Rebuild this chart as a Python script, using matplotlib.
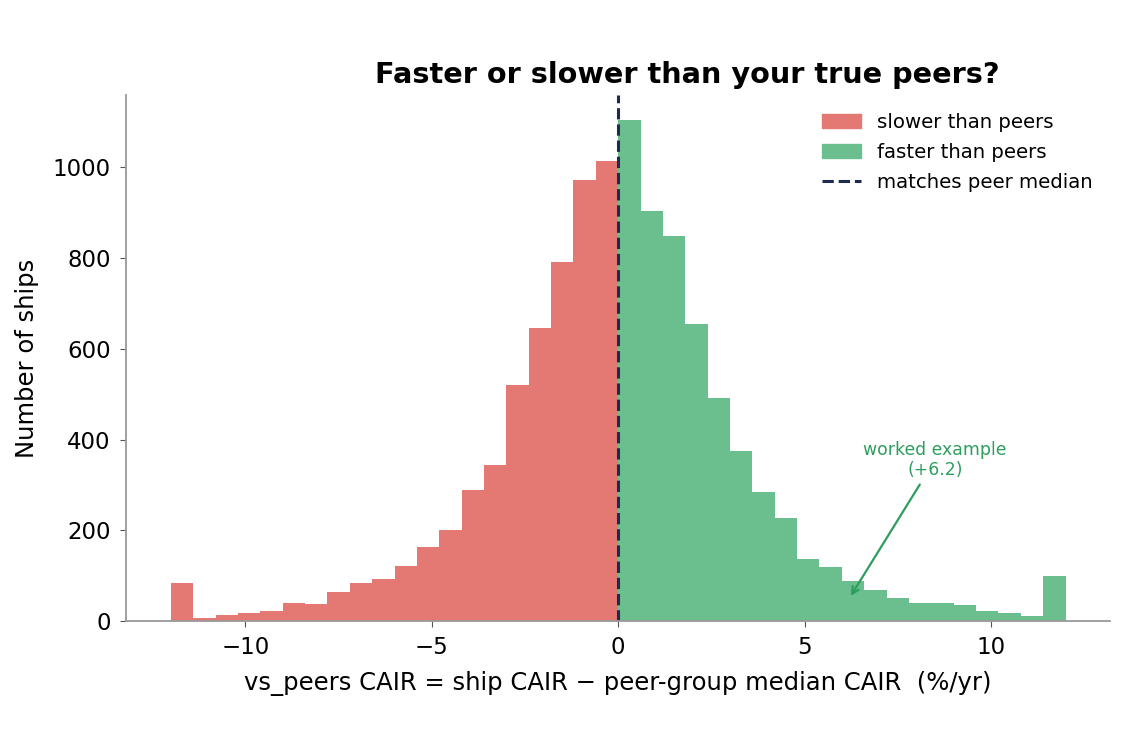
import numpy as np
import matplotlib
matplotlib.use("Agg")
import matplotlib.pyplot as plt
from matplotlib.patches import Patch
from matplotlib.lines import Line2D

# bin edges in %/yr, 0.6 wide, -12 .. 12
bin_edges = np.round(np.arange(-12, 12.01, 0.6), 2)

# ship counts per bin
slower_counts = [83, 6, 13, 18, 21, 39, 37, 63, 83, 93,
                 121, 163, 201, 289, 344, 521, 646, 792, 972, 1014]
faster_counts = [1104, 903, 848, 655, 491, 374, 285, 227, 136, 120,
                 88, 68, 51, 40, 39, 35, 21, 18, 10, 100]

example_value = 6.2

red = "#e47872"
green = "#6bbe8d"
navy = "#1f2a4f"
note_green = "#2e9e5e"

fig = plt.figure(figsize=(11.26, 7.55), dpi=100)
ax = fig.add_axes([0.112, 0.1775, 0.874, 0.6965])

edges_left = bin_edges[:21]
edges_right = bin_edges[20:]
centers_left = (edges_left[:-1] + edges_left[1:]) / 2
centers_right = (edges_right[:-1] + edges_right[1:]) / 2

ax.hist(centers_left, bins=edges_left, weights=slower_counts, color=red)
ax.hist(centers_right, bins=edges_right, weights=faster_counts, color=green)
ax.axvline(0, color=navy, linestyle="--", linewidth=2.2)

ax.annotate("worked example\n(+6.2)", xy=(example_value, 50), xytext=(8.5, 355),
            ha="center", va="center", color=note_green, fontsize=12.4,
            arrowprops=dict(arrowstyle="->", color=note_green, lw=1.6))

handles = [Patch(color=red, label="slower than peers"),
           Patch(color=green, label="faster than peers"),
           Line2D([0], [0], color=navy, linestyle="--", lw=2.2, label="matches peer median")]
ax.legend(handles=handles, loc="upper right", frameon=False, fontsize=14.2,
          labelspacing=0.55, bbox_to_anchor=(1.0, 1.0))

ax.set_title("Faster or slower than your true peers?", fontsize=20.7,
             fontweight="bold", x=0.57, pad=9)
ax.set_xlabel("vs_peers CAIR = ship CAIR \u2212 peer-group median CAIR  (%/yr)",
              fontsize=17.5, labelpad=8.5)
ax.set_ylabel("Number of ships", fontsize=17.5, labelpad=10)

for side in ["top", "right"]:
    ax.spines[side].set_visible(False)
for side in ["left", "bottom"]:
    ax.spines[side].set_color("#999999")
    ax.spines[side].set_linewidth(1.3)
ax.tick_params(labelsize=16.5, length=4, pad=7, color="#555555")

fig.savefig("out.png", dpi=100)
